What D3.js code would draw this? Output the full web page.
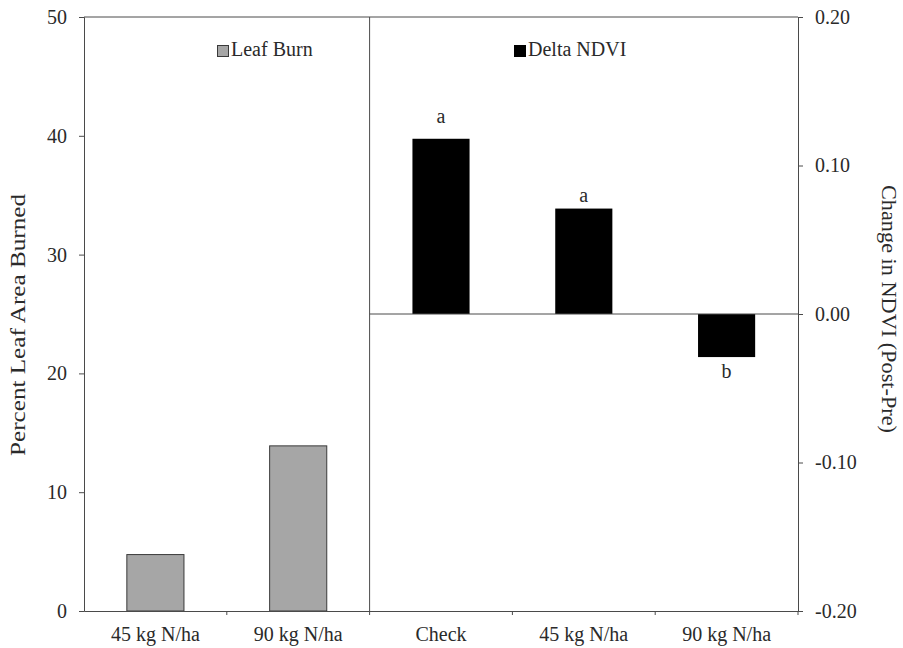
<!DOCTYPE html>
<html><head><meta charset="utf-8">
<script src="https://cdn.jsdelivr.net/npm/d3@7"></script>
<style>body{margin:0;background:#fff;} svg text{font-family:"Liberation Serif","Times New Roman","DejaVu Serif",serif !important;fill:#2a2a2a;}</style>
</head><body>
<svg id="c" width="903" height="648"></svg>
<script>
const categories = ["45 kg N/ha", "90 kg N/ha", "Check", "45 kg N/ha ", "90 kg N/ha "];
const leafBurnCats = ["45 kg N/ha", "90 kg N/ha"];
const leafBurn = [4.75, 13.9];
const ndviCats = ["Check", "45 kg N/ha ", "90 kg N/ha "];
const deltaNDVI = [0.118, 0.071, -0.029];
const ndviLetters = ["a", "a", "b"];
const letterAt = [0.1285, 0.0755, -0.043];
const leftTicks = [0, 10, 20, 30, 40, 50];
const rightTicks = [-0.2, -0.1, 0, 0.1, 0.2];

const FONT = "'Liberation Serif','Times New Roman','DejaVu Serif',serif";
const svg = d3.select("#c").attr("font-family", FONT);
const L = 84, R = 798, T = 17, B = 611;
const x = d3.scaleBand().domain(categories).range([L, R]).paddingInner(0).paddingOuter(0);
const yL = d3.scaleLinear().domain([0, 50]).range([B, T]);
const yR = d3.scaleLinear().domain([-0.2, 0.2]).range([B, T]);
const bw = x.bandwidth() * 0.4;
const axisColor = "#4a4a4a";

// bars
svg.append("g").selectAll("rect").data(leafBurn).join("rect")
  .attr("x", (d, i) => x(leafBurnCats[i]) + x.bandwidth() / 2 - bw / 2)
  .attr("width", bw)
  .attr("y", d => yL(d)).attr("height", d => yL(0) - yL(d))
  .attr("fill", "#a6a6a6").attr("stroke", "#3a3a3a").attr("stroke-width", 1);

svg.append("g").selectAll("rect").data(deltaNDVI).join("rect")
  .attr("x", (d, i) => x(ndviCats[i]) + x.bandwidth() / 2 - bw / 2)
  .attr("width", bw)
  .attr("y", d => yR(Math.max(0, d))).attr("height", d => Math.abs(yR(d) - yR(0)))
  .attr("fill", "#000");

// letters
svg.append("g").selectAll("text").data(letterAt).join("text")
  .attr("x", (d, i) => x(ndviCats[i]) + x.bandwidth() / 2)
  .attr("y", d => yR(d))
  .attr("text-anchor", "middle").attr("font-size", 20).attr("font-family", FONT)
  .text((d, i) => ndviLetters[i]);

// zero line right panel
svg.append("line").attr("x1", x("Check")).attr("x2", R).attr("y1", yR(0)).attr("y2", yR(0))
  .attr("stroke", axisColor).attr("stroke-width", 1);

// frame top
svg.append("line").attr("x1", L).attr("x2", R).attr("y1", T).attr("y2", T).attr("stroke", axisColor);
// divider
svg.append("line").attr("x1", x("Check")).attr("x2", x("Check")).attr("y1", T).attr("y2", B).attr("stroke", axisColor);

// axes
const axL = svg.append("g").attr("transform", `translate(${L},0)`)
  .call(d3.axisLeft(yL).tickValues(leftTicks).tickSize(5).tickPadding(12).tickFormat(d3.format("d")));
const axR = svg.append("g").attr("transform", `translate(${R},0)`)
  .call(d3.axisRight(yR).tickValues(rightTicks).tickSize(5).tickPadding(12).tickFormat(d3.format(".2f")));
const axB = svg.append("g").attr("transform", `translate(0,${B})`)
  .call(d3.axisBottom(x).tickSize(0).tickPadding(16).tickFormat(d => d.trim()));
// band-boundary ticks on x axis
svg.append("g").selectAll("line").data(categories.slice(1).concat(["_end"])).join("line")
  .attr("x1", d => d === "_end" ? R : x(d)).attr("x2", d => d === "_end" ? R : x(d))
  .attr("y1", B).attr("y2", B + 4).attr("stroke", axisColor);

[axL, axR, axB].forEach(g => {
  g.attr("font-family", FONT);
  g.selectAll("path, line").attr("stroke", axisColor);
  g.selectAll("text").attr("font-size", 20).attr("fill", "#2a2a2a").attr("font-family", FONT);
});
axR.selectAll("text").text(d => d < 0 ? "-" + d3.format(".2f")(-d) : d3.format(".2f")(d));

// legends
svg.append("rect").attr("x", 217.5).attr("y", 45.5).attr("width", 11).attr("height", 11)
  .attr("fill", "#a6a6a6").attr("stroke", "#3a3a3a");
svg.append("text").attr("x", 231).attr("y", 56).attr("font-size", 20).attr("font-family", FONT).text("Leaf Burn");
svg.append("rect").attr("x", 514).attr("y", 45).attr("width", 12).attr("height", 12).attr("fill", "#000");
svg.append("text").attr("x", 528).attr("y", 56).attr("font-size", 20).attr("font-family", FONT).text("Delta NDVI");

// axis titles
svg.append("text").attr("transform", `translate(25,325) rotate(-90)`)
  .attr("text-anchor", "middle").attr("font-size", 21).attr("font-family", FONT)
  .attr("textLength", 262).attr("lengthAdjust", "spacingAndGlyphs")
  .text("Percent Leaf Area Burned");
svg.append("text").attr("transform", `translate(882,309) rotate(90)`)
  .attr("text-anchor", "middle").attr("font-size", 20).attr("font-family", FONT)
  .attr("textLength", 248).attr("lengthAdjust", "spacingAndGlyphs")
  .text("Change in NDVI (Post-Pre)");
</script>
</body></html>
